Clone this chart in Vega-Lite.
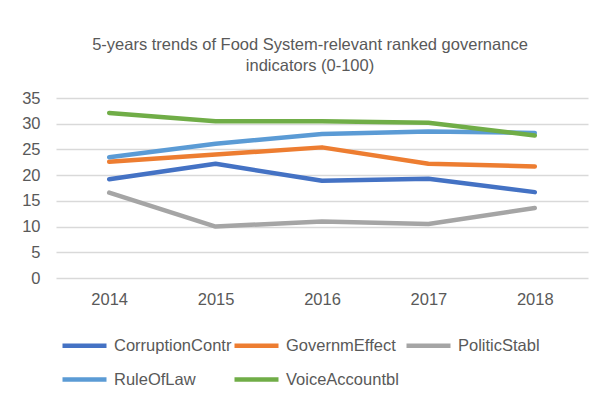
{
  "$schema": "https://vega.github.io/schema/vega-lite/v6.json",
  "width": 532,
  "height": 180,
  "autosize": {"type": "none"},
  "padding": {"left": 56, "top": 98, "right": 18, "bottom": 129},
  "background": "white",
  "title": {
    "text": ["5-years trends of Food System-relevant ranked governance", "indicators (0-100)"],
    "anchor": "middle",
    "dx": -12,
    "offset": 16,
    "fontSize": 16.5,
    "fontWeight": "normal",
    "lineHeight": 21,
    "font": "Liberation Sans",
    "color": "#595959"
  },
  "data": {
    "values": [
      {"year": "2014", "series": "CorruptionContr", "value": 19.2},
      {"year": "2015", "series": "CorruptionContr", "value": 22.2},
      {"year": "2016", "series": "CorruptionContr", "value": 18.9},
      {"year": "2017", "series": "CorruptionContr", "value": 19.3},
      {"year": "2018", "series": "CorruptionContr", "value": 16.7},
      {"year": "2014", "series": "GovernmEffect", "value": 22.6},
      {"year": "2015", "series": "GovernmEffect", "value": 24.0},
      {"year": "2016", "series": "GovernmEffect", "value": 25.4},
      {"year": "2017", "series": "GovernmEffect", "value": 22.2},
      {"year": "2018", "series": "GovernmEffect", "value": 21.7},
      {"year": "2014", "series": "PoliticStabl", "value": 16.6},
      {"year": "2015", "series": "PoliticStabl", "value": 10.0},
      {"year": "2016", "series": "PoliticStabl", "value": 11.0},
      {"year": "2017", "series": "PoliticStabl", "value": 10.5},
      {"year": "2018", "series": "PoliticStabl", "value": 13.6},
      {"year": "2014", "series": "RuleOfLaw", "value": 23.5},
      {"year": "2015", "series": "RuleOfLaw", "value": 26.1},
      {"year": "2016", "series": "RuleOfLaw", "value": 28.0},
      {"year": "2017", "series": "RuleOfLaw", "value": 28.5},
      {"year": "2018", "series": "RuleOfLaw", "value": 28.2},
      {"year": "2014", "series": "VoiceAccountbl", "value": 32.1},
      {"year": "2015", "series": "VoiceAccountbl", "value": 30.5},
      {"year": "2016", "series": "VoiceAccountbl", "value": 30.5},
      {"year": "2017", "series": "VoiceAccountbl", "value": 30.2},
      {"year": "2018", "series": "VoiceAccountbl", "value": 27.7}
    ]
  },
  "mark": {"type": "line", "strokeWidth": 4.5, "strokeCap": "round", "strokeJoin": "round"},
  "encoding": {
    "x": {
      "field": "year",
      "type": "ordinal",
      "scale": {"type": "point", "padding": 0.5},
      "axis": {
        "title": null,
        "labelAngle": 0,
        "domain": false,
        "ticks": false,
        "grid": false,
        "labelPadding": 13,
        "labelFontSize": 16.5,
        "labelFont": "Liberation Sans",
        "labelColor": "#595959"
      }
    },
    "y": {
      "field": "value",
      "type": "quantitative",
      "scale": {"domain": [0, 35], "nice": false},
      "axis": {
        "title": null,
        "values": [0, 5, 10, 15, 20, 25, 30, 35],
        "domain": false,
        "ticks": false,
        "grid": true,
        "gridColor": "#D9D9D9",
        "gridWidth": 1.5,
        "labelPadding": 16,
        "labelFontSize": 16.5,
        "labelFont": "Liberation Sans",
        "labelColor": "#595959"
      }
    },
    "color": {
      "field": "series",
      "type": "nominal",
      "scale": {
        "domain": ["CorruptionContr", "GovernmEffect", "PoliticStabl", "RuleOfLaw", "VoiceAccountbl"],
        "range": ["#4472C4", "#ED7D31", "#A5A5A5", "#5B9BD5", "#70AD47"]
      },
      "legend": {
        "title": null,
        "orient": "none",
        "legendX": 4,
        "legendY": 223,
        "direction": "horizontal",
        "columns": 3,
        "gridAlign": "all",
        "columnPadding": -11,
        "rowPadding": -6,
        "symbolType": "stroke",
        "symbolSize": 1936,
        "symbolStrokeWidth": 4.5,
        "labelOffset": 5,
        "labelFontSize": 16.5,
        "labelFont": "Liberation Sans",
        "labelColor": "#595959"
      }
    }
  },
  "config": {"view": {"stroke": null}}
}
